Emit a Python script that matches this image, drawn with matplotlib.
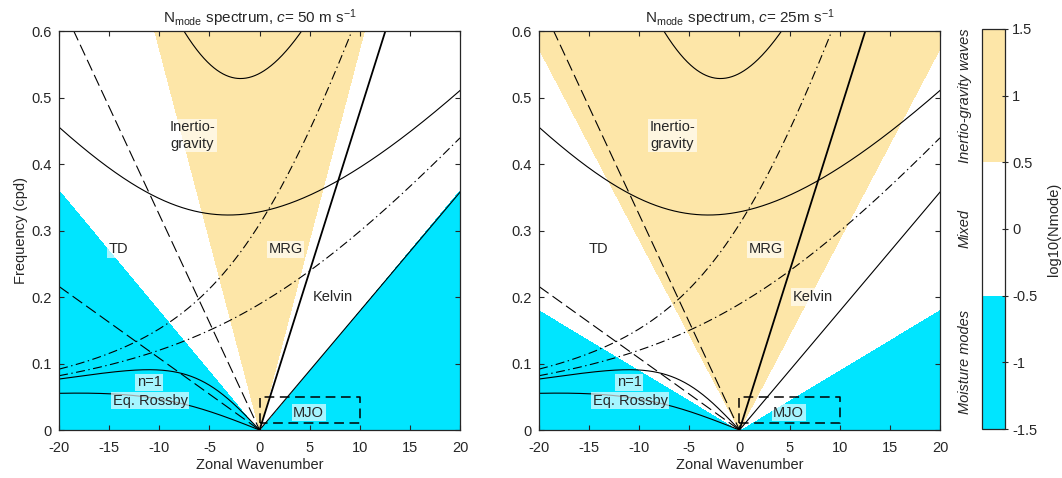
import numpy as np
import matplotlib
matplotlib.use("Agg")
import matplotlib.pyplot as plt
from matplotlib.colors import ListedColormap, BoundaryNorm
from matplotlib.cm import ScalarMappable

plt.rcParams["font.family"] = ["Liberation Sans", "DejaVu Sans"]
plt.rcParams["font.size"] = 10.5
plt.rcParams["axes.unicode_minus"] = False
plt.rcParams["mathtext.fontset"] = "custom"
plt.rcParams["mathtext.rm"] = "Liberation Sans"
plt.rcParams["mathtext.it"] = "Liberation Sans:italic"
plt.rcParams["lines.scale_dashes"] = False

# ── Parameters ───────────────────────────────────────────────────────────────
moisture_speeds = [50, 25]            # c (m/s) in each panel title
equiv_depths = [7, 50]                # shallow-water equivalent depths (m)
westward_speeds = [5, 15]             # dashed constant phase-speed lines (m/s)
nmode_gain = 11.2                     # Nmode = gain * (cp / c)^2
level_bounds = [-1.5, -0.5, 0.5, 1.5]
level_colors = ["#00E5FF", "#FFFFFF", "#FDE6A8"]
level_names = ["Moisture modes", "Mixed", "Inertio-gravity waves"]
level_centres = [-1.0, 0.0, 1.0]
mjo_wavenumbers = [0, 10]
mjo_freqs = [0.01, 0.05]

# ── Constants ────────────────────────────────────────────────────────────────
g = 9.81
a = 6.371e6
beta = 2 * 7.292e-5 / a
to_cpd = 86400 / (2 * np.pi)
cp_per_wn = 86400 / (2 * np.pi * a)   # cpd per unit wavenumber per m/s

k_line = np.linspace(-20, 20, 801)
k_grid = np.linspace(-20, 20, 800)
w_grid = np.linspace(0, 0.6, 601)
KK, WW = np.meshgrid(k_grid, w_grid)

cmap = ListedColormap(level_colors)
norm = BoundaryNorm(level_bounds, cmap.N)
INK = "#262626"
FS = 10.5


def matsuno(k_wn, h, n):
    c = np.sqrt(g * h)
    out = []
    for kw in k_wn:
        k = kw / a
        r = np.roots([1, 0, -(c**2 * k**2 + (2 * n + 1) * beta * c), -c**2 * beta * k])
        out.append(np.sort(r.real))
    return np.array(out) * to_cpd


def draw_panel(ax, c_moist, title):
    cp = WW / (np.abs(KK) * cp_per_wn)
    lognm = np.log10(nmode_gain * (cp / c_moist) ** 2 + 1e-12)
    ax.contourf(KK, WW, np.clip(lognm, -1.49, 1.49), levels=level_bounds,
                cmap=cmap, norm=norm, zorder=0)

    for h in equiv_depths:
        c = np.sqrt(g * h)
        kpos = k_line[k_line >= 0]
        kneg = k_line[k_line <= 0]
        # Kelvin
        ax.plot(kpos, c * kpos * cp_per_wn, color="k", lw=1.3 if h == 50 else 0.8, zorder=3)
        # n=1 inertio-gravity and equatorial Rossby
        r1 = matsuno(k_line, h, 1)
        ax.plot(k_line, r1[:, 2], color="k", lw=0.8, zorder=3)
        r1n = matsuno(kneg, h, 1)
        ax.plot(kneg, r1n[:, 1], color="k", lw=0.8, zorder=3)
        # n=0 MRG / EIG
        half = k_line / a * c / 2
        w0 = (half + np.sqrt(half**2 + beta * c)) * to_cpd
        ax.plot(k_line, w0, color="k", lw=0.8, ls=(0, (6.5, 2.5, 1, 2.5)), zorder=3)

    for cw in westward_speeds:
        kneg = k_line[k_line <= 0]
        ax.plot(kneg, -cw * kneg * cp_per_wn, color="k", lw=0.8,
                ls=(0, (8.5, 3.5)), zorder=3)

    ax.plot([mjo_wavenumbers[0], mjo_wavenumbers[0], mjo_wavenumbers[1],
             mjo_wavenumbers[1], mjo_wavenumbers[0]],
            [mjo_freqs[0], mjo_freqs[1], mjo_freqs[1], mjo_freqs[0], mjo_freqs[0]],
            color="k", lw=1.1, ls=(0, (7, 4)), zorder=3)

    box = dict(facecolor="white", alpha=0.65, edgecolor="none", pad=1.2)
    txt = dict(ha="center", va="center", color=INK, fontsize=FS, bbox=box, zorder=5)
    ax.text(-6.7, 0.443, "Inertio-\ngravity", linespacing=1.2, **txt)
    ax.text(-14.1, 0.272, "TD", **txt)
    ax.text(2.6, 0.272, "MRG", **txt)
    ax.text(7.3, 0.200, "Kelvin", **txt)
    ax.text(-11.0, 0.0717, "n=1", **txt)
    ax.text(-10.9, 0.044, "Eq. Rossby", **txt)
    ax.text(4.9, 0.026, "MJO", **txt)

    ax.set_xlim(-20, 20)
    ax.set_ylim(0, 0.6)
    ax.set_xticks(np.arange(-20, 21, 5))
    ax.set_yticks(np.arange(0, 0.61, 0.1))
    ax.set_yticklabels(["0", "0.1", "0.2", "0.3", "0.4", "0.5", "0.6"])
    ax.tick_params(direction="in", length=3.5, width=0.8, top=True, right=True,
                   colors=INK, labelsize=FS)
    ax.tick_params(axis="x", pad=8)
    ax.tick_params(axis="y", pad=5)
    for s in ax.spines.values():
        s.set_color(INK)
        s.set_linewidth(0.9)
        s.set_zorder(6)
    ax.set_xlabel("Zonal Wavenumber", color=INK, fontsize=FS, labelpad=2)
    ax.set_title(title, color=INK, fontsize=11, pad=6)


fig = plt.figure(figsize=(10.62, 4.78), dpi=100)
ax1 = fig.add_axes([0.0556, 0.1004, 0.3776, 0.8347])
ax2 = fig.add_axes([0.5075, 0.1004, 0.3776, 0.8347])
cax = fig.add_axes([0.9247, 0.1025, 0.0217, 0.837])

draw_panel(ax1, moisture_speeds[0],
           r"N$_{\mathrm{mode}}$ spectrum, $\it{c}$= %d m s$^{-1}$" % moisture_speeds[0])
draw_panel(ax2, moisture_speeds[1],
           r"N$_{\mathrm{mode}}$ spectrum, $\it{c}$= %dm s$^{-1}$" % moisture_speeds[1])
ax1.set_ylabel("Frequency (cpd)", color=INK, fontsize=FS, labelpad=3)

cb = fig.colorbar(ScalarMappable(norm=norm, cmap=cmap), cax=cax,
                  ticks=np.arange(-1.5, 1.51, 0.5))
cb.ax.set_yticklabels(["-1.5", "-1", "-0.5", "0", "0.5", "1", "1.5"])
cb.ax.tick_params(direction="inout", length=4, width=0.8, colors=INK, labelsize=FS, pad=3)
cb.outline.set_linewidth(0.9)
cb.outline.set_edgecolor(INK)
cb.set_label("log10(Nmode)", color=INK, fontsize=FS, labelpad=7)
for name, yc in zip(level_names, level_centres):
    cax.text(-0.75, yc, name, rotation=90, ha="center", va="center",
             style="italic", color=INK, fontsize=FS,
             transform=cax.get_yaxis_transform())

fig.savefig("out.png", dpi=100)
